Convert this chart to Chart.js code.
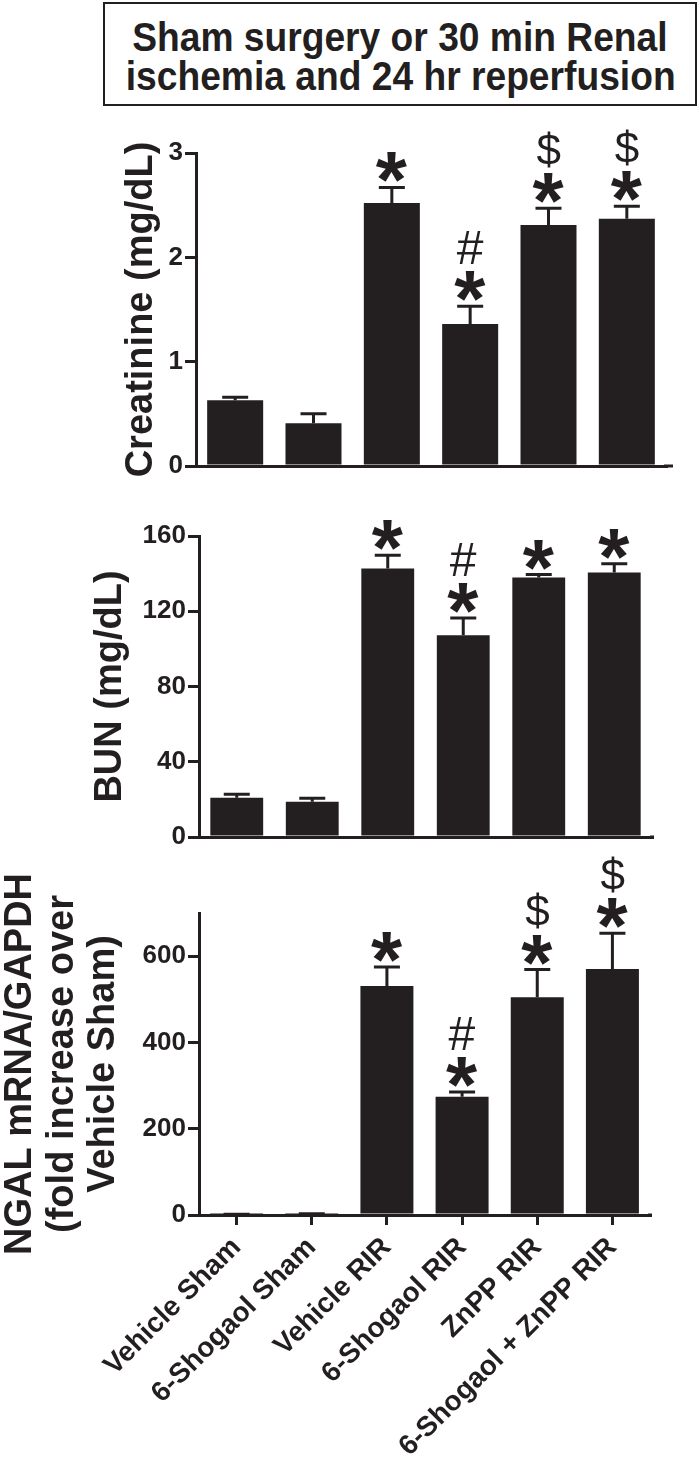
<!DOCTYPE html>
<html>
<head>
<meta charset="utf-8">
<script src="https://cdn.jsdelivr.net/npm/chart.js@4/dist/chart.umd.min.js"></script>
<style>
  html, body { margin: 0; padding: 0; background: #fff; }
  body { width: 700px; height: 1478px; position: relative; overflow: hidden; font-family: "Liberation Sans", Arial, sans-serif; }
  .titlebox {
    position: absolute; left: 103px; top: 2px; width: 590px; height: 86px;
    border: 2px solid #231f20; text-align: center; font-weight: bold;
    font-size: 40px; line-height: 39px; color: #231f20; padding-top: 14px; box-sizing: content-box;
  }
  .titlebox span { display: inline-block; transform: scaleX(0.93); white-space: nowrap; }
  canvas { position: absolute; left: 0; }
</style>
</head>
<body>
<div class="titlebox"><span>Sham surgery or 30 min Renal</span><br><span>ischemia and 24 hr reperfusion</span></div>
<div style="position:absolute;left:0;top:110px;width:700px;height:380px"><canvas id="creatChart"></canvas></div>
<div style="position:absolute;left:0;top:490px;width:700px;height:370px"><canvas id="bunChart"></canvas></div>
<div style="position:absolute;left:0;top:850px;width:700px;height:628px"><canvas id="ngalChart"></canvas></div>
<script>
const groups = ["Vehicle Sham", "6-Shogaol Sham", "Vehicle RIR", "6-Shogaol RIR", "ZnPP RIR", "6-Shogaol + ZnPP RIR"];

const creatMean = [0.63, 0.41, 2.52, 1.36, 2.31, 2.37];
const creatSem = [0.03, 0.09, 0.15, 0.17, 0.16, 0.12];
const creatMarks = [[], [], ["*"], ["*", "#"], ["*", "$"], ["*", "$"]];

const bunMean = [20.9, 18.8, 142.7, 107.2, 137.9, 140.6];
const bunSem = [1.8, 1.8, 7.1, 9.2, 1.6, 4.7];
const bunMarks = [[], [], ["*"], ["*", "#"], ["*"], ["*"]];

const ngalMean = [1, 2.5, 531, 274, 505, 570];
const ngalSem = [0.5, 0.5, 44, 11, 64, 83];
const ngalMarks = [[], [], ["*"], ["*", "#"], ["*", "$"], ["*", "$"]];

const ink = "#231f20";
const fam = "'Liberation Sans', Arial, sans-serif";
const markFont = { "*": "bold 80px " + fam, "#": "48px " + fam, "$": "44px " + fam };

function drawCentered(ctx, s, cx, cy, font) {
    ctx.font = font;
    ctx.textAlign = "left";
    ctx.textBaseline = "alphabetic";
    let m = ctx.measureText(s);
    let x = cx - (m.actualBoundingBoxRight - m.actualBoundingBoxLeft) / 2;
    let y = cy + (m.actualBoundingBoxAscent - m.actualBoundingBoxDescent) / 2;
    ctx.fillText(s, x, y);
}

// error bars, significance marks and the extra bit of x axis
const extras = {
    id: "extras",
    afterDatasetsDraw(chart, args, opts) {
        let ctx = chart.ctx;
        let y = chart.scales.y;
        let bars = chart.getDatasetMeta(0).data;
        ctx.save();
        ctx.strokeStyle = ink;
        ctx.fillStyle = ink;
        ctx.lineWidth = 3;
        bars.forEach(function (bar, i) {
            let top = y.getPixelForValue(opts.mean[i] + opts.sem[i]);
            ctx.beginPath();
            ctx.moveTo(bar.x, bar.y);
            ctx.lineTo(bar.x, top);
            ctx.moveTo(bar.x - 13, top);
            ctx.lineTo(bar.x + 13, top);
            ctx.stroke();
            let cy = top - 20;
            opts.marks[i].forEach(function (s, k) {
                drawCentered(ctx, s, bar.x, cy - k * 39, markFont[s]);
            });
        });
        if (opts.axisEnd) {
            let a = chart.chartArea;
            ctx.beginPath();
            ctx.moveTo(a.right - 2, a.bottom);
            ctx.lineTo(opts.axisEnd, a.bottom);
            ctx.stroke();
        }
        ctx.restore();
    }
};

function makeChart(id, o) {
    let ctx = document.getElementById(id).getContext("2d");
    return new Chart(ctx, {
        type: "bar",
        data: {
            labels: groups,
            datasets: [{
                data: o.mean,
                backgroundColor: ink,
                borderWidth: 0,
                barPercentage: o.barPct,
                categoryPercentage: 1
            }]
        },
        options: {
            responsive: true,
            maintainAspectRatio: false,
            animation: false,
            layout: { padding: o.padding },
            plugins: {
                legend: { display: false },
                tooltip: { enabled: false },
                extras: { mean: o.mean, sem: o.sem, marks: o.marks, axisEnd: o.axisEnd }
            },
            scales: {
                x: {
                    afterFit: function (s) { s.height = o.xHeight; },
                    border: { display: true, color: ink, width: 3 },
                    grid: { display: o.showX, drawOnChartArea: false, drawTicks: o.showX, tickLength: 10, lineWidth: 3, color: ink, offset: false },
                    ticks: {
                        display: o.showX, minRotation: 45, maxRotation: 45, autoSkip: false, padding: 6,
                        color: ink, font: { family: fam, weight: "bold", size: 28 }
                    }
                },
                y: {
                    min: 0,
                    max: o.max,
                    afterFit: function (s) { s.width = o.axisX; },
                    afterBuildTicks: function (s) { s.ticks = s.ticks.filter(t => o.ticks.includes(t.value)); },
                    border: { display: true, color: ink, width: 3 },
                    grid: { drawOnChartArea: false, drawTicks: true, tickLength: 11, lineWidth: 3, color: ink },
                    ticks: { stepSize: o.ticks[1], padding: 2, color: ink, font: { family: fam, weight: "bold", size: 26 } },
                    title: {
                        display: true, text: o.title, color: ink,
                        padding: { top: o.titlePad, bottom: 0 },
                        font: { family: fam, weight: "bold", size: 38, lineHeight: o.titleLH }
                    }
                }
            }
        },
        plugins: [extras]
    });
}

makeChart("creatChart", {
    mean: creatMean, sem: creatSem, marks: creatMarks, max: 3, ticks: [0, 1, 2, 3],
    title: "Creatinine (mg/dL)", titlePad: 119, titleLH: 1.2,
    padding: { left: 0, right: 34, top: 43, bottom: 24 }, axisX: 196, axisEnd: 673,
    xHeight: 0, showX: false, barPct: 0.715
});

makeChart("bunChart", {
    mean: bunMean, sem: bunSem, marks: bunMarks, max: 160, ticks: [0, 40, 80, 120, 160],
    title: "BUN (mg/dL)", titlePad: 88, titleLH: 1.2,
    padding: { left: 0, right: 48, top: 46, bottom: 23 }, axisX: 199, axisEnd: 654,
    xHeight: 0, showX: false, barPct: 0.70
});

makeChart("ngalChart", {
    mean: ngalMean, sem: ngalSem, marks: ngalMarks, max: 700, ticks: [0, 200, 400, 600],
    title: ["NGAL mRNA/GAPDH", "(fold increase over", "Vehicle Sham)"], titlePad: 0, titleLH: 1.09,
    padding: { left: 0, right: 50, top: 63, bottom: 0 }, axisX: 199, axisEnd: 652,
    xHeight: 263, showX: true, barPct: 0.705
});
</script>
</body>
</html>
